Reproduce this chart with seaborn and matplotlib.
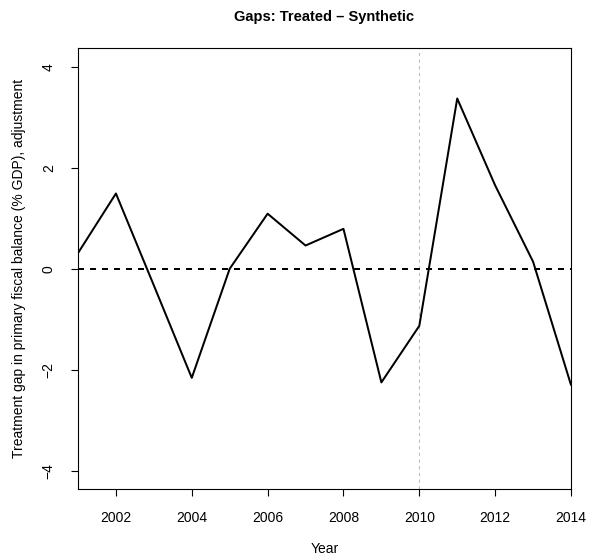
import matplotlib
matplotlib.use("Agg")
import matplotlib.pyplot as plt
import seaborn as sns
import pandas as pd

years = [2001, 2002, 2003, 2004, 2005, 2006, 2007, 2008, 2009, 2010, 2011, 2012, 2013, 2014]
gap = [0.31, 1.49, -0.33, -2.16, 0.0, 1.09, 0.46, 0.79, -2.25, -1.13, 3.37, 1.65, 0.14, -2.30]
xticks = [2002, 2004, 2006, 2008, 2010, 2012, 2014]
yticks = [-4, -2, 0, 2, 4]
treat_year = 2010
title = "Gaps: Treated \u2013 Synthetic"
xlabel = "Year"
ylabel = "Treatment gap in primary fiscal balance (% GDP), adjustment"

sns.set_style("ticks")
plt.rcParams['font.family'] = ['Liberation Sans', 'DejaVu Sans']
plt.rcParams['text.color'] = 'black'
plt.rcParams['axes.labelcolor'] = 'black'

df = pd.DataFrame({"year": years, "gap": gap})

fig = plt.figure(figsize=(5.92, 5.6), dpi=100)
ax = fig.add_axes([78/592, 1-489/560, (571-78)/592, (489-48)/560])

ax.axvline(treat_year, color="#BEBEBE", lw=0.8, linestyle=(0, (3, 3)), zorder=1)
ax.axhline(0, color="black", lw=1.44, linestyle=(0, (3, 3)), zorder=2)
sns.lineplot(data=df, x="year", y="gap", ax=ax, color="black", lw=1.44, zorder=3)

ax.set_xlim(2001, 2014)
ax.set_ylim(-4.36, 4.37)
ax.set_xticks(xticks)
ax.set_xticklabels([str(t) for t in xticks])
ax.set_yticks(yticks)
ax.set_yticklabels([str(t).replace("-", "\u2212") for t in yticks], rotation=90, va="center")

for s in ax.spines.values():
    s.set_visible(True)
    s.set_color("black")
    s.set_linewidth(0.8)

ax.tick_params(axis="both", direction="out", length=5, width=0.8, color="black",
               labelsize=10, labelcolor="black")
ax.tick_params(axis="x", pad=11)
ax.tick_params(axis="y", pad=11)

ax.set_xlabel(xlabel, fontsize=10, labelpad=12, color="black")
ax.set_ylabel(ylabel, fontsize=10, labelpad=11, color="black")
fig.text((78+571)/2/592, 1-17/560, title, ha="center", va="center",
         fontsize=10.5, fontweight="bold", color="black")

fig.savefig("out.png", dpi=100)
